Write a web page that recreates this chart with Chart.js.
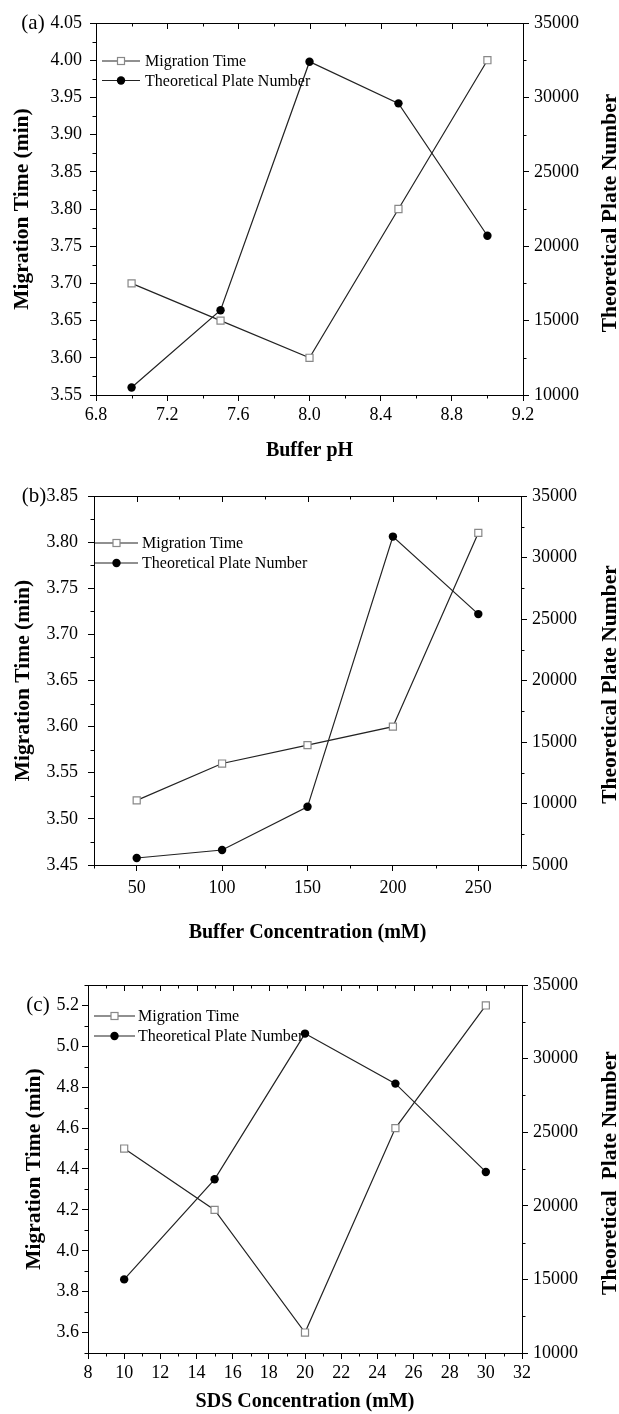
<!DOCTYPE html>
<html><head><meta charset="utf-8">
<script src="https://cdn.jsdelivr.net/npm/chart.js@4.4.1/dist/chart.umd.min.js"></script>
<style>
html,body{margin:0;padding:0;background:#fff;}
body{width:619px;height:1414px;position:relative;overflow:hidden;}
canvas{position:absolute;left:0;}
</style></head><body>
<canvas id="ca" width="619" height="470" style="top:0px"></canvas>
<canvas id="cb" width="619" height="475" style="top:470px"></canvas>
<canvas id="cc" width="619" height="469" style="top:945px"></canvas>
<script>
// ---- data ----
const phValues = [7.0, 7.5, 8.0, 8.5, 9.0];
const phMigration = [3.70, 3.65, 3.60, 3.80, 4.00];
const phPlates = [10500, 15700, 32400, 29600, 20700];

const bufferConc = [50, 100, 150, 200, 250];
const bufferMigration = [3.52, 3.56, 3.58, 3.60, 3.81];
const bufferPlates = [5570, 6220, 9730, 31700, 25400];

const sdsConc = [10, 15, 20, 25, 30];
const sdsMigration = [4.50, 4.20, 3.60, 4.60, 5.20];
const sdsPlates = [15000, 21800, 31700, 28300, 22300];

const seriesNames = ['Migration Time', 'Theoretical Plate Number'];
const panelLabels = ['(a)', '(b)', '(c)'];
const xTitles = ['Buffer pH', 'Buffer Concentration (mM)', 'SDS Concentration (mM)'];
const leftTitle = 'Migration Time (min)';
const rightTitles = ['Theoretical Plate Number', 'Theoretical Plate Number', 'Theoretical  Plate Number'];

// ---- helpers ----
const SERIF = "'Liberation Serif', 'Times New Roman', serif";
const isMajor = (v, m) => Math.abs(v / m - Math.round(v / m)) < 1e-6;

function makeDecor(p) {
  return {
    id: 'decor' + p.idx,
    afterDraw(chart) {
      const ctx = chart.ctx, a = chart.chartArea;
      const xs = chart.scales.x, yl = chart.scales.y, yr = chart.scales.y1;
      ctx.save();
      ctx.strokeStyle = '#000';
      ctx.lineWidth = 1;
      // top frame line
      ctx.beginPath();
      ctx.moveTo(a.left, Math.round(a.top) + 0.5);
      ctx.lineTo(a.right, Math.round(a.top) + 0.5);
      ctx.stroke();
      // x ticks: minor bottom (outward), all top (inward)
      xs.ticks.forEach(t => {
        const px = Math.round(xs.getPixelForValue(t.value)) + 0.5;
        const maj = isMajor(t.value, p.x.major);
        ctx.beginPath();
        ctx.moveTo(px, a.top); ctx.lineTo(px, a.top + (maj ? 6 : 3.5));
        if (!maj) { ctx.moveTo(px, a.bottom); ctx.lineTo(px, a.bottom + 3.5); }
        ctx.stroke();
      });
      yl.ticks.forEach(t => {
        if (isMajor(t.value, p.y.major)) return;
        const py = Math.round(yl.getPixelForValue(t.value)) + 0.5;
        ctx.beginPath(); ctx.moveTo(a.left, py); ctx.lineTo(a.left - 3.5, py); ctx.stroke();
      });
      yr.ticks.forEach(t => {
        if (isMajor(t.value, p.y1.major)) return;
        const py = Math.round(yr.getPixelForValue(t.value)) + 0.5;
        ctx.beginPath(); ctx.moveTo(a.right, py); ctx.lineTo(a.right + 3.5, py); ctx.stroke();
      });
      // right title, reading bottom-to-top
      ctx.fillStyle = '#000';
      ctx.font = 'bold 21.5px ' + SERIF;
      ctx.textAlign = 'center';
      ctx.textBaseline = 'middle';
      ctx.save();
      ctx.translate(p.rightTitleX, (a.top + a.bottom) / 2 + 4);
      ctx.rotate(-Math.PI / 2);
      ctx.fillText(rightTitles[p.idx], 0, 0);
      ctx.restore();
      // panel label
      ctx.font = '21px ' + SERIF;
      ctx.fillText(panelLabels[p.idx], p.tagX, a.top + p.tagDy);
      // legend inside plot
      const lx = a.left + p.leg.dx, ly = a.top + p.leg.dy;
      chart.data.datasets.forEach((ds, i) => {
        const y = ly + i * p.leg.gap;
        ctx.strokeStyle = '#222'; ctx.lineWidth = 1.2;
        ctx.beginPath(); ctx.moveTo(lx, y); ctx.lineTo(lx + p.leg.len, y); ctx.stroke();
        const mx = lx + p.leg.len / 2;
        if (ds.pointStyle === 'rect') {
          ctx.fillStyle = '#fff'; ctx.strokeStyle = '#888';
          ctx.fillRect(mx - 3.5, y - 3.5, 7, 7);
          ctx.strokeRect(mx - 3.5, y - 3.5, 7, 7);
        } else {
          ctx.fillStyle = '#000';
          ctx.beginPath(); ctx.arc(mx, y, 4.2, 0, Math.PI * 2); ctx.fill();
        }
        ctx.fillStyle = '#000';
        ctx.font = '16px ' + SERIF;
        ctx.textAlign = 'left';
        ctx.fillText(ds.label, lx + p.leg.len + p.leg.tgap, y + 1);
      });
      ctx.restore();
    }
  };
}

function axisY(cfg, pos, width, pad, title, titlePad) {
  return {
    type: 'linear', position: pos, min: cfg.min, max: cfg.max,
    afterFit: s => { s.width = width; },
    border: { display: true, color: '#000', width: 1 },
    grid: {
      display: true, drawOnChartArea: false, drawTicks: true, tickLength: 6, tickWidth: 1,
      tickColor: c => (c.tick && isMajor(c.tick.value, cfg.major)) ? '#000' : 'rgba(0,0,0,0)'
    },
    ticks: {
      stepSize: cfg.step, maxTicksLimit: 1000, autoSkip: false, padding: pad, color: '#000',
      font: { family: SERIF, size: 18 },
      callback: v => isMajor(v, cfg.major) ? v.toFixed(cfg.dec) : ''
    },
    title: title ? { display: true, text: title, color: '#000', padding: { top: titlePad, bottom: 0 },
      font: { family: SERIF, size: 21.5, weight: 'bold' } } : { display: false }
  };
}

function makePanel(canvasId, p) {
  const ds = [
    { label: seriesNames[0], yAxisID: 'y', data: p.xv.map((x, i) => ({ x, y: p.mig[i] })),
      borderColor: '#222', borderWidth: 1.2, pointStyle: 'rect', pointRadius: 5,
      pointBackgroundColor: '#fff', pointBorderColor: '#888', pointBorderWidth: 1.2, tension: 0, order: 1 },
    { label: seriesNames[1], yAxisID: 'y1', data: p.xv.map((x, i) => ({ x, y: p.tp[i] })),
      borderColor: '#222', borderWidth: 1.2, pointStyle: 'circle', pointRadius: 4.2,
      pointBackgroundColor: '#000', pointBorderColor: '#000', pointBorderWidth: 0, tension: 0, order: 2 }
  ];
  new Chart(document.getElementById(canvasId), {
    type: 'line',
    data: { datasets: ds },
    options: {
      responsive: false, animation: false, devicePixelRatio: 1,
      layout: { padding: { top: p.padTop, left: 0, right: 0, bottom: 0 } },
      plugins: { legend: { display: false }, tooltip: { enabled: false } },
      scales: {
        x: {
          type: 'linear', position: 'bottom', min: p.x.min, max: p.x.max,
          afterFit: s => { s.height = p.xHeight; },
          border: { display: true, color: '#000', width: 1 },
          grid: {
            display: true, drawOnChartArea: false, drawTicks: true, tickLength: 6, tickWidth: 1,
            tickColor: c => (c.tick && isMajor(c.tick.value, p.x.major)) ? '#000' : 'rgba(0,0,0,0)'
          },
          ticks: {
            stepSize: p.x.step, maxTicksLimit: 1000, autoSkip: false, maxRotation: 0, padding: p.x.pad,
            color: '#000', font: { family: SERIF, size: 18 },
            callback: v => isMajor(v, p.x.major) ? v.toFixed(p.x.dec) : ''
          },
          title: { display: true, text: xTitles[p.idx], color: '#000', padding: { top: 0, bottom: p.xTitlePad },
            font: { family: SERIF, size: 20, weight: 'bold' } }
        },
        y: axisY(p.y, 'left', p.leftW, p.y.pad, leftTitle, p.leftTitlePad),
        y1: axisY(p.y1, 'right', p.rightW, p.y1.pad, null, 0)
      }
    },
    plugins: [makeDecor(p)]
  });
}

makePanel('ca', {
  idx: 0, xv: phValues, mig: phMigration, tp: phPlates,
  padTop: 23, xHeight: 75, leftW: 96, rightW: 96, xTitlePad: 7, leftTitlePad: 10,
  x: { min: 6.8, max: 9.2, step: 0.2, major: 0.4, dec: 1, pad: 3 },
  y: { min: 3.55, max: 4.05, step: 0.025, major: 0.05, dec: 2, pad: 8 },
  y1: { min: 10000, max: 35000, step: 2500, major: 5000, dec: 0, pad: 5 },
  rightTitleX: 610, tagX: 33, tagDy: 0,
  leg: { dx: 6, dy: 38, gap: 19.5, len: 38, tgap: 5 }
});

makePanel('cb', {
  idx: 1, xv: bufferConc, mig: bufferMigration, tp: bufferPlates,
  padTop: 26, xHeight: 80, leftW: 94, rightW: 98, xTitlePad: 0, leftTitlePad: 11,
  x: { min: 25, max: 275, step: 25, major: 50, dec: 0, pad: 6 },
  y: { min: 3.45, max: 3.85, step: 0.025, major: 0.05, dec: 2, pad: 10 },
  y1: { min: 5000, max: 35000, step: 2500, major: 5000, dec: 0, pad: 5 },
  rightTitleX: 610, tagX: 34, tagDy: 0,
  leg: { dx: 1, dy: 47, gap: 20, len: 43, tgap: 4 }
});

makePanel('cc', {
  idx: 2, xv: sdsConc, mig: sdsMigration, tp: sdsPlates,
  padTop: 40, xHeight: 61, leftW: 88, rightW: 97, xTitlePad: 0, leftTitlePad: 22,
  x: { min: 8, max: 32, step: 1, major: 2, dec: 0, pad: 3 },
  y: { min: 3.5, max: 5.3, step: 0.1, major: 0.2, dec: 1, pad: 3 },
  y1: { min: 10000, max: 35000, step: 2500, major: 5000, dec: 0, pad: 5 },
  rightTitleX: 610, tagX: 38, tagDy: 20,
  leg: { dx: 6, dy: 31, gap: 20, len: 41, tgap: 3 }
});
</script>
</body></html>
